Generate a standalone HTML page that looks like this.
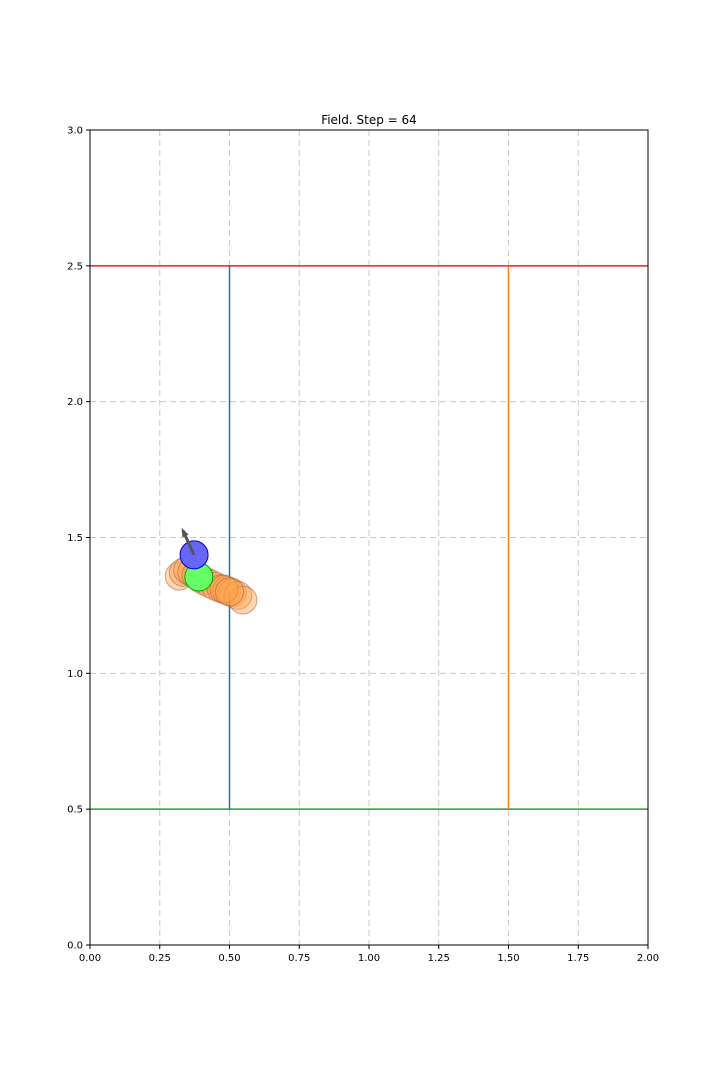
<!DOCTYPE html>
<html><head><meta charset="utf-8"><style>
body{margin:0;background:#fff;}
svg text{font-family:"DejaVu Sans","Liberation Sans",sans-serif;}
</style></head><body>
<svg id="chart" width="720" height="1080" xmlns="http://www.w3.org/2000/svg">
<rect width="720" height="1080" fill="#fff"/>
<g id="grid"></g>
<g id="marks"></g>
<rect x="90" y="130" width="558" height="815" fill="none" stroke="#000" stroke-width="1"/>
<g id="ticks"></g>
<text x="369" y="124" text-anchor="middle" font-size="12">Field. Step = 64</text>
</svg>
<script>
const xTicks=[0,0.25,0.5,0.75,1.0,1.25,1.5,1.75,2.0];
const yTicks=[0,0.5,1.0,1.5,2.0,2.5,3.0];
const trailX=[0.32,0.335,0.35,0.365,0.38,0.395,0.41,0.43,0.45,0.47,0.49,0.51,0.53,0.548,0.48,0.50];
const trailY=[1.358,1.372,1.38,1.372,1.362,1.35,1.34,1.33,1.32,1.312,1.305,1.297,1.287,1.27,1.31,1.30];
const agentX=0.373, agentY=1.436;
const targetX=0.39, targetY=1.355;
const arrowDX=-0.04, arrowDY=0.09;
const vLines=[{x:0.5,y0:0.5,y1:2.5,c:'#1f77b4',n:'blue-wall'},{x:1.5,y0:0.5,y1:2.5,c:'#ff7f0e',n:'orange-wall'}];
const hLines=[{y:2.5,c:'#d62728',n:'red-boundary'},{y:0.5,c:'#2ca02c',n:'green-boundary'}];
const X=v=>90+v/2*558, Y=v=>945-v/3*815;
const NS='http://www.w3.org/2000/svg';
function mk(t,a,p){const e=document.createElementNS(NS,t);for(const k in a)e.setAttribute(k,a[k]);p.appendChild(e);return e;}
const grid=document.getElementById('grid'),marks=document.getElementById('marks'),ticks=document.getElementById('ticks');
xTicks.forEach(v=>{
 if(v>0&&v<2){const l=mk('line',{x1:X(v),x2:X(v),y1:130,y2:945,stroke:'#c8c8c8','stroke-dasharray':'6,4'},grid);
 }
 const t=mk('line',{x1:X(v),x2:X(v),y1:945,y2:949,stroke:'#000'},ticks);
 
 const tx=mk('text',{x:X(v),y:961,'text-anchor':'middle','font-size':10},ticks);tx.textContent=v.toFixed(2);
 
});
yTicks.forEach(v=>{
 if(v>0&&v<3){const l=mk('line',{x1:90,x2:648,y1:Y(v),y2:Y(v),stroke:'#c8c8c8','stroke-dasharray':'6,4'},grid);
 }
 const t=mk('line',{x1:86,x2:90,y1:Y(v),y2:Y(v),stroke:'#000'},ticks);
 
 const tx=mk('text',{x:83,y:Y(v)+3.5,'text-anchor':'end','font-size':10},ticks);tx.textContent=v.toFixed(1);
 
});
hLines.forEach(h=>{const l=mk('line',{x1:90,x2:648,y1:Y(h.y),y2:Y(h.y),stroke:h.c,'stroke-width':1.5},marks);
 });
vLines.forEach(h=>{const l=mk('line',{x1:X(h.x),x2:X(h.x),y1:Y(h.y0),y2:Y(h.y1),stroke:h.c,'stroke-width':1.5},marks);
 });
trailX.forEach((v,i)=>{const c=mk('circle',{cx:X(v),cy:Y(trailY[i]),r:14,fill:'#ffa54f','fill-opacity':0.45,stroke:'#a0522d','stroke-opacity':0.5},marks);
 });
const g=mk('circle',{cx:X(targetX),cy:Y(targetY),r:14,fill:'#66ff66',stroke:'#00aa00'},marks);

const b=mk('circle',{cx:X(agentX),cy:Y(agentY),r:14,fill:'#6666ff',stroke:'#0000cc'},marks);

const ax=X(agentX),ay=Y(agentY),ex=X(agentX+arrowDX),ey=Y(agentY+arrowDY);
const a=mk('line',{x1:ax,y1:ay,x2:ex,y2:ey,stroke:'#555','stroke-width':3},marks);

const ang=Math.atan2(ey-ay,ex-ax),L=7;
const p=mk('polygon',{points:`${ex+Math.cos(ang)*3},${ey+Math.sin(ang)*3} ${ex-Math.cos(ang-0.5)*L},${ey-Math.sin(ang-0.5)*L} ${ex-Math.cos(ang+0.5)*L},${ey-Math.sin(ang+0.5)*L}`,fill:'#555'},marks);

</script>
</body></html>
